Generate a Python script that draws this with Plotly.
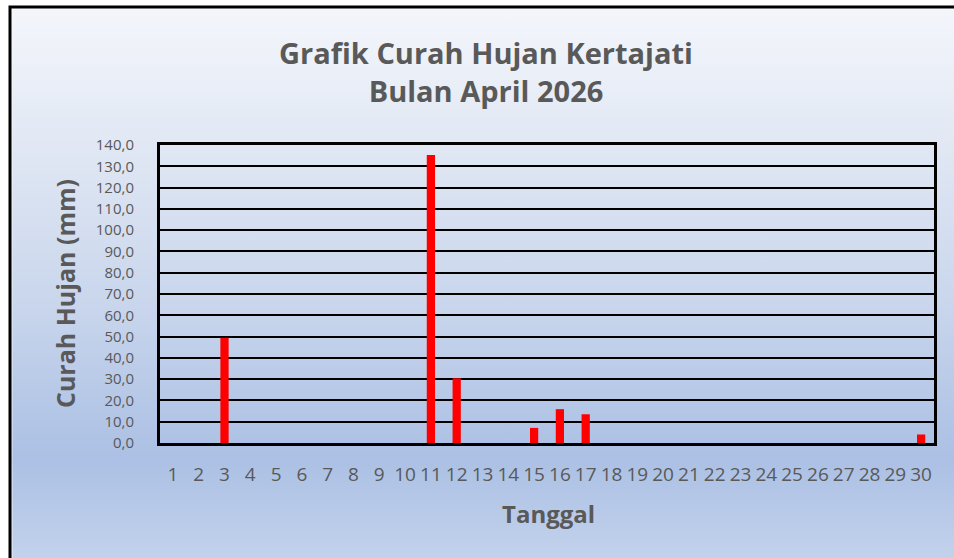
import base64
import plotly.graph_objects as go

# ---- data ----
days = [str(i) for i in range(1, 31)]
rain_mm = [0, 0, 49.5, 0, 0, 0, 0, 0, 0, 0,
           135.3, 30.4, 0, 0, 7.1, 15.9, 13.5, 0, 0, 0,
           0, 0, 0, 0, 0, 0, 0, 0, 0, 4.0]
y_ticks = [0, 10, 20, 30, 40, 50, 60, 70, 80, 90, 100, 110, 120, 130, 140]

title_text = "Grafik Curah Hujan Kertajati<br>Bulan April 2026"
x_title = "Tanggal"
y_title = "Curah Hujan (mm)"

# ---- layout geometry (pixels) ----
W, H = 954, 558
L, R, T, B = 160, 20, 145, 115
PW, PH = W - L - R, H - T - B

FONT = "Open Sans, Noto Sans, sans-serif"
GRAY = "#595959"

svg = f'''<svg xmlns="http://www.w3.org/2000/svg" width="{W}" height="{H}" viewBox="0 0 {W} {H}" preserveAspectRatio="none">
<defs><linearGradient id="g" gradientUnits="userSpaceOnUse" x1="0" y1="6" x2="0" y2="558">
<stop offset="0" stop-color="#f4f6fb"/>
<stop offset="0.25" stop-color="#e1e8f4"/>
<stop offset="0.55" stop-color="#c8d5ec"/>
<stop offset="0.82" stop-color="#abc0e4"/>
<stop offset="1" stop-color="#c3d2ec"/>
</linearGradient></defs>
<rect x="0" y="0" width="{W}" height="{H}" fill="#ffffff"/>
<rect x="9" y="6" width="990" height="600" fill="url(#g)"/>
<rect x="12" y="9" width="990" height="600" fill="none" stroke="#ffffff" stroke-opacity="0.7" stroke-width="1"/>
<rect x="10" y="7" width="990" height="600" fill="none" stroke="#000000" stroke-width="3"/>
</svg>'''
src = "data:image/svg+xml;base64," + base64.b64encode(svg.encode()).decode()

fig = go.Figure()
fig.add_trace(go.Bar(
    x=days, y=rain_mm,
    marker=dict(color="#ff0000", line=dict(width=0)),
    hoverinfo="x+y",
))

fig.update_layout(
    width=W, height=H,
    margin=dict(l=L, r=R, t=T, b=B, pad=0),
    paper_bgcolor="#ffffff",
    plot_bgcolor="rgba(0,0,0,0)",
    separators=",.",
    bargap=0.68,
    showlegend=False,
    font=dict(family=FONT, color=GRAY),
    title=dict(
        text=title_text,
        x=486 / W, xref="container", xanchor="center",
        y=1 - 64 / H, yref="container", yanchor="middle",
        font=dict(family=FONT, size=29, color=GRAY, weight="bold"),
    ),
    images=[dict(
        source=src, xref="paper", yref="paper",
        x=-L / PW, y=(H - B) / PH,
        sizex=W / PW, sizey=H / PH,
        xanchor="left", yanchor="top",
        sizing="stretch", layer="below",
    )],
    annotations=[
        dict(text=y_title, xref="paper", yref="paper",
             x=(65 - L) / PW, y=0.5, xanchor="center", yanchor="middle",
             textangle=-90, showarrow=False,
             font=dict(family=FONT, size=25, color=GRAY, weight="bold")),
        dict(text=x_title, xref="paper", yref="paper",
             x=(548 - L) / PW, y=-(513 - (H - B)) / PH,
             xanchor="center", yanchor="middle", showarrow=False,
             font=dict(family=FONT, size=24, color=GRAY, weight="bold")),
    ],
)

fig.update_xaxes(
    type="category",
    showline=True, linecolor="#000000", linewidth=3, mirror=True,
    showgrid=False, ticks="", ticklabelstandoff=12,
    tickfont=dict(family=FONT, size=19, color=GRAY),
    tickangle=0,
)
fig.update_yaxes(
    range=[0, 140], tickvals=y_ticks, tickformat=".1f",
    showline=True, linecolor="#000000", linewidth=3, mirror=True,
    showgrid=True, gridcolor="#000000", gridwidth=2,
    zeroline=False, ticks="", ticklabelstandoff=20,
    tickfont=dict(family=FONT, size=15, color=GRAY),
)

fig.write_html(
    "out.html",
    config={"displayModeBar": False},
    post_script="document.body.style.margin='0';document.body.style.overflow='hidden';",
)
